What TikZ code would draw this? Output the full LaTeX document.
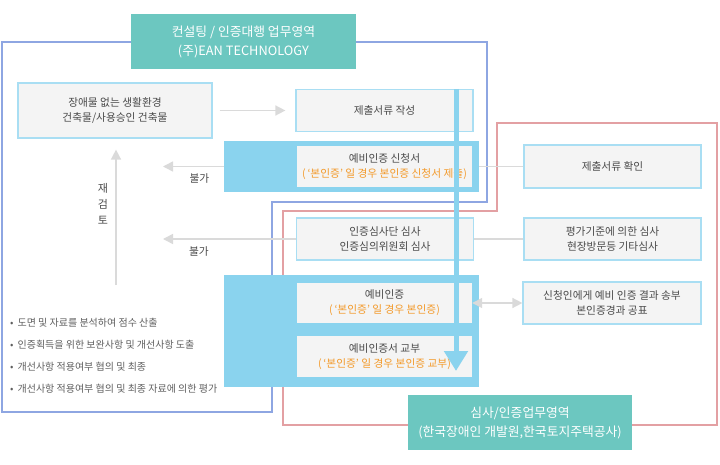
\documentclass[tikz,border=0pt]{standalone}
\usepackage{fontspec}
\setmainfont{Noto Sans CJK KR}
\usetikzlibrary{arrows.meta}
\definecolor{areateal}{HTML}{6CC7C0}
\definecolor{bandblue}{HTML}{8AD3EE}
\definecolor{boxedge}{HTML}{A9DEF3}
\definecolor{boxfill}{HTML}{F4F4F4}
\definecolor{outblue}{HTML}{8EA6E2}
\definecolor{outred}{HTML}{E3A0A3}
\definecolor{linegray}{HTML}{DADADA}
\definecolor{txtgray}{HTML}{4A4A4A}
\definecolor{notegray}{HTML}{5E5E5E}
\definecolor{noteorange}{HTML}{F39A2B}

\begin{document}
\begin{tikzpicture}[x=1pt, y=-1pt, >={Triangle[width=10pt,length=10pt]},
	every node/.style={font=\fontsize{10.7}{15}\selectfont, text=txtgray, align=center, inner sep=0pt},
	docbox/.style={draw=boxedge, line width=1.2pt, fill=boxfill, minimum width=177pt, minimum height=42pt},
	innerbox/.style={fill=boxfill, minimum width=175pt, minimum height=41pt},
	band/.style={fill=bandblue, minimum width=255pt},
	areabox/.style={fill=areateal, text=white, minimum width=225pt, minimum height=55pt, font=\fontsize{12.8}{19}\selectfont},
	flow/.style={draw=linegray, line width=1.5pt}]
	\useasboundingbox (0,0) rectangle (720,465);
	
	% ==================== 업무영역 테두리 ====================
	\draw[outblue, line width=1.2pt] (2,42) -- (487,42) -- (487,202) -- (272,202) -- (272,412) -- (2,412) -- cycle;
	\draw[outred, line width=1.2pt] (497,123) -- (717,123) -- (717,425) -- (283,425) -- (283,211) -- (497,211) -- cycle;
	
	% ==================== 띠 ====================
	\node[band, minimum height=51pt] (band1) at (351.5,166.5) {};
	\node[band, minimum height=112pt] (band2) at (351.5,331) {};
	
	% ==================== 상자 ====================
	\node[docbox, minimum width=194pt, minimum height=55pt] (src) at (115,110.5) {장애물 없는 생활환경\\건축물/사용승인 건축물};
	\node[docbox] (write) at (384.5,110.5) {제출서류 작성};
	\node[innerbox] (apply) at (384.5,166.5) {예비인증 신청서\\\textcolor{noteorange}{(\,‘본인증’ 일 경우 본인증 신청서 제출)}};
	\node[docbox, minimum height=43pt] (check) at (612.5,166.5) {제출서류 확인};
	\node[docbox] (review) at (385,239) {인증심사단 심사\\인증심의위원회 심사};
	\node[docbox] (criteria) at (612.5,239) {평가기준에 의한 심사\\현장방문등 기타심사};
	\node[innerbox, minimum height=40pt] (pre) at (384.5,303) {예비인증\\\textcolor{noteorange}{(\,‘본인증’ 일 경우 본인증)}};
	\node[innerbox] (issue) at (384.5,356.5) {예비인증서 교부\\\textcolor{noteorange}{(\,‘본인증’ 일 경우 본인증 교부)}};
	\node[docbox, minimum width=178pt] (notify) at (612,303) {신청인에게 예비 인증 결과 송부\\본인증경과 공표};
	
	% ==================== 연결선 ====================
	\coordinate (rej1) at (163,166.5);
	\coordinate (rej2) at (163,239);
	\coordinate (redo) at (116,285);
	\draw[flow, ->, shorten <=7pt, shorten >=10pt] (src) -- (write);
	\draw[flow, ->] (band1.west) -- (rej1) node[pos=0.4, below=6pt] (nogo1) {불가};
	\draw[flow, ->] (review.west) -- (rej2) node[pos=0.73, below=7pt] (nogo2) {불가};
	\draw[flow] (band1.east) -- (check.west);
	\draw[flow] (review.east) -- (criteria.west);
	\draw[flow, <->] (pre.east) -- (notify.west);
	\draw[flow, ->, shorten >=11pt] (redo) -- (redo |- src.south);
	\node[font=\fontsize{11}{16}\selectfont] (redotxt) at (103,204) {재\\검\\토};
	
	% 진행 화살표
	\coordinate (flowtop) at (456,89);
	\coordinate (flowend) at (456,371);
	\draw[bandblue, line width=5pt, -{Triangle[width=23pt,length=20pt]}] (flowtop) -- (flowend);
	
	% ==================== 검토 항목 ====================
	\foreach \t [count=\i] in {도면 및 자료를 분석하여 점수 산출, 인증획득을 위한 보완사항 및 개선사항 도출, 개선사항 적용여부 협의 및 최종, 개선사항 적용여부 협의 및 최종 자료에 의한 평가}
		\node[anchor=west, text=notegray, font=\fontsize{10}{15}\selectfont] (item\i) at (10,301+22*\i) {•\hspace{4pt}\t};
	
	% ==================== 업무영역 제목 ====================
	\node[areabox] (consult) at (243.5,41.5) {컨설팅 / 인증대행 업무영역\\(주)EAN TECHNOLOGY};
	\node[areabox, minimum width=224pt] (audit) at (520,422.5) {심사/인증업무영역\\(한국장애인 개발원,한국토지주택공사)};
\end{tikzpicture}
\end{document}
